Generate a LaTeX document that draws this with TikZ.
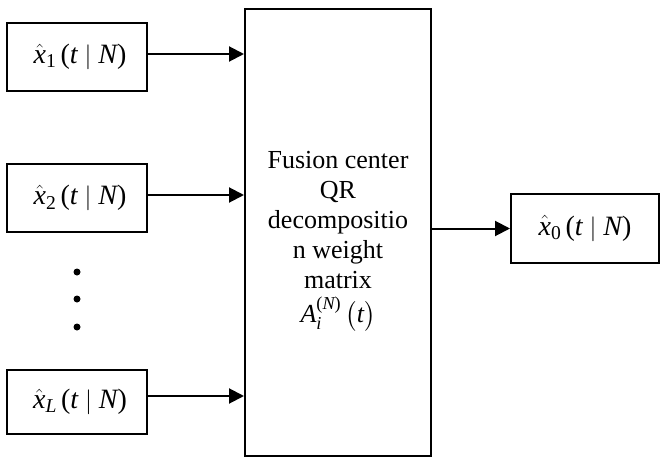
\documentclass[tikz,border=0pt]{standalone}
\usepackage{amsmath}
\usepackage{fontspec}
\setmainfont{Liberation Serif}
\usetikzlibrary{arrows.meta}
\newcommand\ii[1]{\textit{#1}}
\newcommand\rr[1]{\textup{#1}}
\newcommand\lab[1]{$\hat{\ii{x}}_{#1}\,\rr{(}\ii{t}\;|\;\ii{N}\rr{)}$}
\tikzset{
  box/.style={draw, line width=2pt, rectangle, inner sep=0pt, font=\fontsize{28}{32}\selectfont},
  conn/.style={line width=2pt, -{Triangle[length=15pt,width=15pt]}},
  dot/.style={circle, fill, inner sep=0pt, minimum size=7pt}
}
\begin{document}
\begin{tikzpicture}[x=1pt,y=-1pt]
\useasboundingbox (0,0) rectangle (661,457);
\node[box, minimum width=140pt, minimum height=68pt] (b1) at (77,57) {\hspace{6pt}\lab{\rr{1}}};
\node[box, minimum width=140pt, minimum height=68pt] (b2) at (77,198) {\hspace{6pt}\lab{\rr{2}}};
\node[box, minimum width=140pt, minimum height=64pt] (bL) at (77,402) {\hspace{6pt}\lab{\ii{L}}};
\node[box, minimum width=186pt, minimum height=447pt] (fc) at (338,232.5) {};
\node[align=center, font=\fontsize{26}{30}\selectfont, inner sep=0pt] (fct) at (338,241)
  {Fusion center\\QR\\decompositio\\n weight\\matrix\\[4pt]$\ii{A}_{\ii{i}}^{\rr{(}\ii{N}\rr{)}}\,\bigl(\ii{t}\bigr)$};
\node[box, minimum width=148pt, minimum height=69pt] (out) at (585,228.5) {\lab{\rr{0}}};
\node[dot] (d1) at (77,272) {};
\node[dot] (d2) at (77,299) {};
\node[dot] (d3) at (77,327) {};
\draw[conn] (b1.east) ++(0,-3) coordinate (s1) -- (s1 -| fc.west);
\draw[conn] (b2.east) ++(0,-3) coordinate (s2) -- (s2 -| fc.west);
\draw[conn] (bL.east) ++(0,-6) coordinate (sL) -- (sL -| fc.west);
\draw[conn] (out.west -| fc.east) -- (out.west);
\end{tikzpicture}
\end{document}
